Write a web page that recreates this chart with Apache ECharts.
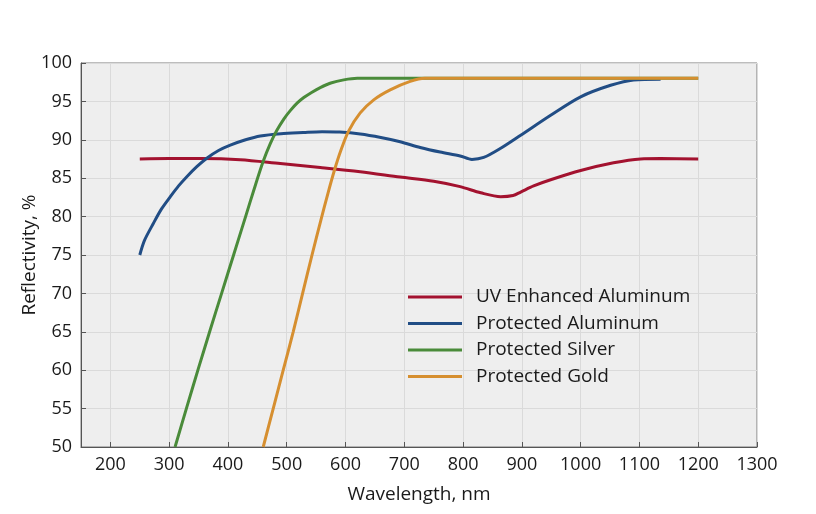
<!DOCTYPE html>
<html>
<head>
<meta charset="utf-8">
<title>Reflectivity</title>
<script src="https://cdn.jsdelivr.net/npm/echarts@6/dist/echarts.min.js"></script>
<style>
    html, body { margin: 0; padding: 0; background: #fff; }
    #chart { width: 816px; height: 514px; }
</style>
</head>
<body>
<div id="chart"></div>
<script>
// wavelength (nm) / reflectivity (%)
var uvEnhancedAl = [[250, 87.5], [300, 87.55], [353, 87.55], [421, 87.4], [489, 86.9], [557, 86.4],
    [625, 85.85], [693, 85.15], [750, 84.6], [795, 83.9], [830, 83.1], [864, 82.6], [885, 82.75], [898, 83.2],
    [920, 84], [949, 84.8], [1000, 86], [1056, 87], [1102, 87.5], [1136, 87.55], [1200, 87.5]];
var protectedAl = [[250, 75], [258, 76.9], [273, 79.1], [287, 81], [302, 82.6], [316, 84], [330, 85.2],
    [347, 86.5], [364, 87.6], [384, 88.6], [404, 89.3], [430, 90], [455, 90.5], [490, 90.8], [528, 90.95],
    [560, 91.05], [590, 91], [625, 90.75], [660, 90.3], [693, 89.75], [727, 89], [761, 88.4], [795, 87.9],
    [815, 87.45], [835, 87.7], [864, 88.9], [898, 90.6], [949, 93.2], [1000, 95.6], [1051, 97.1],
    [1090, 97.8], [1136, 97.9]];
var protectedAg = [[310, 50], [330, 55.2], [350, 60.3], [370, 65.3], [390, 70.2], [410, 75.1], [430, 80],
    [445, 83.7], [460, 87.2], [472, 89.5], [483, 91.2], [495, 92.7], [506, 93.8], [518, 94.8], [529, 95.5],
    [543, 96.2], [557, 96.8], [575, 97.4], [597, 97.8], [620, 98], [700, 98], [1200, 98]];
var protectedAu = [[460, 50], [477, 55], [494, 60], [511, 65], [527, 70], [543, 75], [558, 79.5], [570, 83],
    [581, 86], [592, 88.6], [605, 91.1], [625, 93.5], [648, 95.2], [676, 96.5], [710, 97.6], [735, 98],
    [1200, 98]];

var seriesNames = ['UV Enhanced Aluminum', 'Protected Aluminum', 'Protected Silver', 'Protected Gold'];
var seriesColors = ['#a3122f', '#214d85', '#4a8b3a', '#d68f30'];

// bottom axis ticks every 50 so the 150 start lines up, labels only on the hundreds
var xTicks = ['150', '200', '250', '300', '350', '400', '450', '500', '550', '600', '650', '700',
    '750', '800', '850', '900', '950', '1000', '1050', '1100', '1150', '1200', '1250', '1300'];

var chart = echarts.init(document.getElementById('chart'));
var font = '"Open Sans", "DejaVu Sans", sans-serif';
var onHundred = function(index, value) { return parseInt(value, 10) % 100 === 0; };

var option = {
    backgroundColor: '#fff',
    animation: false,
    textStyle: { fontFamily: font },
    grid: {
        left: 81, right: 59, top: 63, bottom: 67,
        outerBoundsMode: 'none',
        containLabel: false,
        show: true,
        backgroundColor: '#eeeeee',
        borderColor: '#7a7a7a',
        borderWidth: 1
    },
    legend: {
        orient: 'vertical',
        left: 403,
        top: 282,
        icon: 'rect',
        itemWidth: 54,
        itemHeight: 3,
        itemGap: 6.5,
        data: seriesNames,
        textStyle: { fontFamily: font, fontSize: 19, color: '#1a1a1a', lineHeight: 20, padding: [0, 0, 0, 9] }
    },
    xAxis: [{
        type: 'value',
        min: 150,
        max: 1300,
        show: false
    }, {
        type: 'category',
        position: 'bottom',
        data: xTicks,
        boundaryGap: false,
        name: 'Wavelength, nm',
        nameLocation: 'middle',
        nameGap: 38,
        nameMoveOverlap: false,
        nameTextStyle: { fontFamily: font, fontSize: 19, color: '#1a1a1a' },
        axisLine: { lineStyle: { color: '#555', width: 1 } },
        axisTick: { inside: true, length: 5, interval: onHundred, lineStyle: { color: '#555' } },
        axisLabel: { interval: onHundred, margin: 9, fontFamily: font, fontSize: 18, color: '#1a1a1a' },
        splitLine: { show: true, interval: onHundred, lineStyle: { color: '#dadada', width: 1 } }
    }],
    yAxis: {
        type: 'value',
        min: 50,
        max: 100,
        interval: 5,
        name: 'Reflectivity, %',
        nameLocation: 'middle',
        nameGap: 42,
        nameMoveOverlap: false,
        nameTextStyle: { fontFamily: font, fontSize: 19, color: '#1a1a1a' },
        axisLine: { show: true, lineStyle: { color: '#555', width: 1 } },
        axisTick: { show: true, inside: true, length: 5, lineStyle: { color: '#555' } },
        axisLabel: { margin: 9, fontFamily: font, fontSize: 18, color: '#1a1a1a' },
        splitLine: { show: true, lineStyle: { color: '#dadada', width: 1 } }
    },
    series: [uvEnhancedAl, protectedAl, protectedAg, protectedAu].map(function(data, i) {
        return {
            name: seriesNames[i],
            type: 'line',
            xAxisIndex: 0,
            data: data,
            smooth: 0.3,
            showSymbol: false,
            color: seriesColors[i],
            lineStyle: { width: 3, color: seriesColors[i] },
            z: 2 + i
        };
    })
};

chart.setOption(option);
</script>
</body>
</html>
